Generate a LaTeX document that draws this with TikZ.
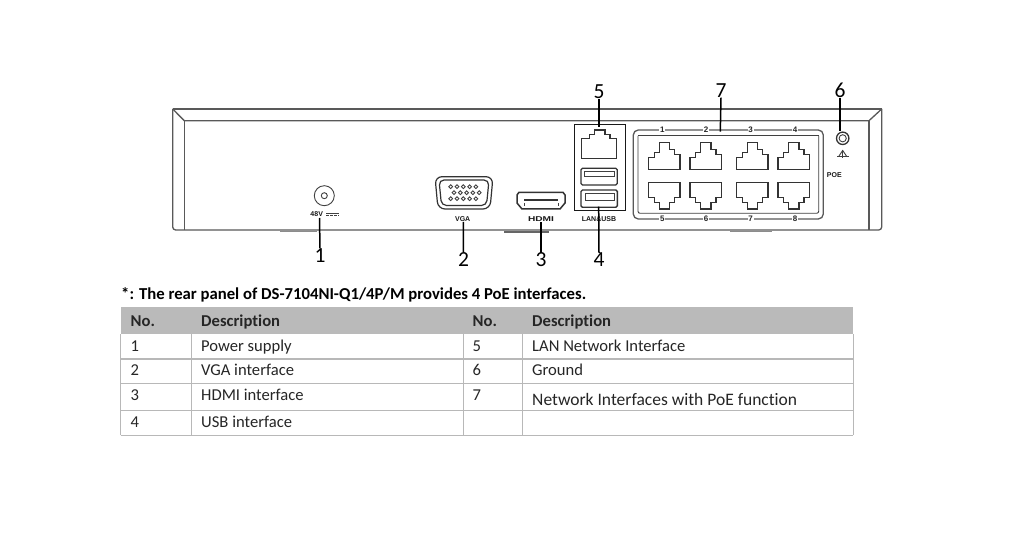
\documentclass[tikz,border=0pt]{standalone}
\usepackage{fontspec}
\setmainfont{Carlito}[Ligatures=NoCommon]
\newfontfamily\smallfont{Liberation Sans}
\tikzset{
  x=1pt,y=-1pt,
  hw/.style={draw=black!65,line width=1.3pt},
  hwthin/.style={draw=black!75,line width=.9pt},
  hwdark/.style={draw=black!80,line width=1.2pt},
  leader/.style={draw=black,line width=1.5pt},
  callout/.style={inner sep=0pt,font=\fontsize{21.5}{24}\selectfont,text=black,anchor=base},
  tiny/.style={inner sep=0pt,font=\smallfont\bfseries\fontsize{7}{8}\selectfont,text=black!90},
  portno/.style={inner sep=.6pt,fill=white,font=\smallfont\bfseries\fontsize{8}{8}\selectfont,text=black!85},
  cell/.style={inner sep=0pt,anchor=base west,font=\fontsize{16.6}{19}\selectfont,text=black!85},
  head/.style={cell,font=\bfseries\fontsize{16.6}{19}\selectfont},
  grid/.style={draw=black!28,line width=1.1pt},
}
\newcommand{\rjup}[2]{%
  \draw[hwdark,shift={(#1,#2)}] (0,0)--(0,-12)--(5.7,-12)--(5.7,-17)--(10.7,-17)--(10.7,-26.7)--(21,-26.7)--(21,-20)--(26,-20)--(26,-15)--(31.3,-15)--(31.3,0)--cycle;}
\newcommand{\rjdown}[2]{%
  \draw[hwdark,shift={(#1,#2)}] (0,0)--(0,15)--(5.7,15)--(5.7,20)--(10.7,20)--(10.7,26.7)--(21,26.7)--(21,20)--(26,20)--(26,15)--(31.3,15)--(31.3,0)--cycle;}
\begin{document}
\begin{tikzpicture}
\useasboundingbox[fill=white] (0,0) rectangle (1023,534);
% chassis
\draw[hw,rounded corners=3pt] (172.7,109)--(172.7,230)--(881.7,230)--(881.7,109);
\draw[hw] (172.7,109)--(881.7,109);
\draw[hw] (172.7,109)--(184.3,120.7)--(869,120.7)--(881.7,109);
\draw[hw] (184.3,120.7)--(184.3,230);
\draw[hw] (869,120.7)--(869,230);
\draw[draw=black!45,line width=1pt] (280,231.5)--(317,231.5);
\draw[draw=black!60,line width=1.4pt] (504,232)--(549,232);
\draw[draw=black!45,line width=1pt] (730,231.5)--(772,231.5);
% power
\draw[hwthin] (324.3,195.7) circle (10);
\draw[hwthin] (324.3,195.7) circle (3);
\node[tiny] (v48) at (316.7,214.3) {48V};
\draw[hwthin] (326,213)--(339,213);
\draw[hwthin,dash pattern=on 3pt off 1pt] (326,215.5)--(339,215.5);
\coordinate (dc) at (319.5,218);
% VGA
\draw[hwdark,rounded corners=7pt] (435,176.7)--(493,176.7)--(490,209)--(438,209)--cycle;
\draw[hwdark,rounded corners=5pt] (439,180)--(489,180)--(486.5,205.5)--(441.5,205.5)--cycle;
\foreach \i in {0,...,4}{
  \draw[black!75,line width=.9pt] (450.7+6.3*\i,186.7) circle (1.9);
  \draw[black!75,line width=.9pt] (454+6.3*\i,192.7) circle (1.9);
  \draw[black!75,line width=.9pt] (450.7+6.3*\i,198.7) circle (1.9);
}
\node[tiny] (vga) at (462.7,219) {VGA};
\coordinate (vgap) at (463.3,222);
% HDMI
\draw[hwdark,line width=1.5pt] (517,195)--(519,192.3)--(563,192.3)--(565,195)--(565,203)--(560,209)--(522,209)--(517,203)--cycle;
\draw[hwdark,line width=2pt] (524,200)--(558,200);
\draw[hwthin] (524,203)--(524,206) (558,203)--(558,206);
\node[tiny,xscale=1.45] (hdmi) at (541,219) {HDMI};
\coordinate (hdmip) at (541,222);
% LAN & USB block
\draw[draw=black!90,line width=1pt] (574,124.3) rectangle (625.3,211);
\draw[hwdark,line width=1.4pt] (581.7,158.3)--(581.7,138.3)--(589.3,138.3)--(589.3,134.3)--(594.3,134.3)--(594.3,130)--(605,130)--(605,134.3)--(610,134.3)--(610,138.3)--(616.7,138.3)--(616.7,158.3)--cycle;
\draw[hwdark,rounded corners=1.5pt] (581,168.3) rectangle (617.3,185);
\draw[hwthin] (584,171) rectangle (614,176);
\draw[hwdark,line width=1.4pt,rounded corners=1.5pt] (581,190) rectangle (617.3,207.3);
\draw[hwthin] (585,193.3) rectangle (614,200);
\node[tiny] (lanusb) at (599,219) {LAN\&USB};
\coordinate (lanp) at (599,126.7);
\coordinate (usbp) at (598.7,206.7);
% PoE block
\draw[hw,rounded corners=5pt] (633.3,130) rectangle (823.3,219);
\draw[hwthin,rounded corners=2pt] (638,136)--(638,213.3)--(818.7,213.3)--(818.7,136);
\draw[hwthin] (638,135.7)--(818.7,135.7);
\rjup{648.7}{169.3}\rjup{690}{169.3}\rjup{736.7}{169.3}\rjup{778}{169.3}
\rjdown{648.7}{182.3}\rjdown{690}{182.3}\rjdown{736.7}{182.3}\rjdown{778}{182.3}
\node[portno] (p1) at (662.3,130) {1};
\node[portno] (p2) at (706,130) {2};
\node[portno] (p3) at (750.7,130) {3};
\node[portno] (p4) at (795,130) {4};
\node[portno] (p5) at (662.3,218.5) {5};
\node[portno] (p6) at (706,218.5) {6};
\node[portno] (p7) at (750.7,218.5) {7};
\node[portno] (p8) at (795,218.5) {8};
\node[tiny] (poe) at (834.3,175) {POE};
\coordinate (poep) at (720.3,131.7);
% ground
\draw[hwdark,line width=1.3pt] (842.7,138.3) circle (6.2);
\draw[hwthin] (842.7,138.3) circle (3.6);
\draw[hwthin] (837,156)--(848.6,156);
\draw[hwthin] (839,156)--(842.7,150.5)--(846.4,156);
\draw[hwthin] (842.7,150.5)--(842.7,158);
\coordinate (gnd) at (840,131);
% callouts
\node[callout] (n1) at (320,262.5) {1};
\node[callout] (n2) at (463.5,266.7) {2};
\node[callout] (n3) at (541,266.7) {3};
\node[callout] (n4) at (599,267) {4};
\node[callout] (n5) at (599,98.3) {5};
\node[callout] (n6) at (840,97.5) {6};
\node[callout] (n7) at (721,97.5) {7};
\draw[leader] (n1.north) -- (dc);
\draw[leader] (n2.north) -- (vgap);
\draw[leader] (n3.north) -- (hdmip);
\draw[leader] (n4.north) -- (usbp);
\draw[leader] (n5.south) -- (lanp);
\draw[leader] (n6.south) -- (gnd);
\draw[leader] (n7.south) -- (poep);
% title
\node[head,text=black,font=\bfseries\fontsize{16.7}{19}\selectfont] (title) at (121,299.5) {*: The rear panel of DS-7104NI-Q1/4P/M provides 4 PoE interfaces.};
% table
\fill[black!27] (120.7,306.7) rectangle (853.3,334.3);
\draw[grid] (120.7,334.3)--(120.7,435.3) (853.3,334.3)--(853.3,435.3);
\draw[grid] (120.7,359)--(853.3,359) (120.7,383.3)--(853.3,383.3) (120.7,410.7)--(853.3,410.7) (120.7,435.3)--(853.3,435.3);
\draw[grid] (191.7,334.3)--(191.7,435.3) (463.3,334.3)--(463.3,435.3) (522.3,334.3)--(522.3,435.3);
\node[head] (h1) at (130.5,326.5) {No.};
\node[head] (h2) at (201,326.5) {Description};
\node[head] (h3) at (472.5,326.5) {No.};
\node[head] (h4) at (532,326.5) {Description};
\node[cell] (a1) at (130.5,351.8) {1};
\node[cell] (b1) at (201,351.8) {Power supply};
\node[cell] (c1) at (472.5,351.8) {5};
\node[cell] (d1) at (532,351.8) {LAN Network Interface};
\node[cell] (a2) at (130.5,375.8) {2};
\node[cell] (b2) at (201,375.8) {VGA interface};
\node[cell] (c2) at (472.5,375.8) {6};
\node[cell] (d2) at (532,375.8) {Ground};
\node[cell] (a3) at (130.5,400.3) {3};
\node[cell] (b3) at (201,400.3) {HDMI interface};
\node[cell] (c3) at (472.5,400.3) {7};
\node[cell,font=\fontsize{17.5}{19}\selectfont] (d3) at (532,405.8) {Network Interfaces with PoE function};
\node[cell] (a4) at (130.5,427.5) {4};
\node[cell] (b4) at (201,427.5) {USB interface};
\end{tikzpicture}
\end{document}
